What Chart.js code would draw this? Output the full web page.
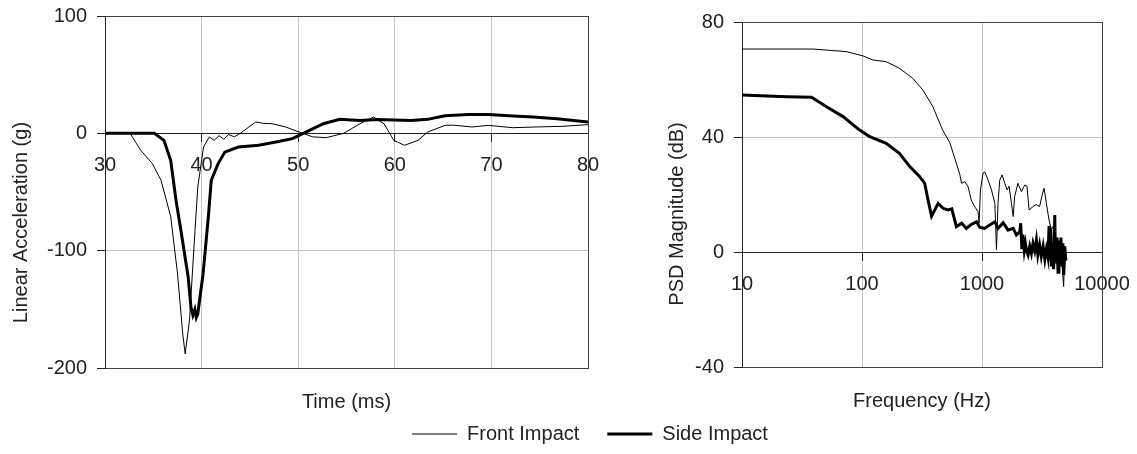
<!DOCTYPE html>
<html>
<head>
<meta charset="utf-8">
<script src="https://cdn.jsdelivr.net/npm/chart.js@4"></script>
<style>
html, body { margin: 0; padding: 0; background: #fff; }
#wrap { position: relative; width: 1137px; height: 454px; }
.box { position: absolute; }
</style>
</head>
<body>
<div id="wrap">
  <div class="box" style="left:0;top:0;width:600px;height:425px"><canvas id="timeChart"></canvas></div>
  <div class="box" style="left:600px;top:0;width:537px;height:425px"><canvas id="freqChart"></canvas></div>
  <div class="box" style="left:0;top:330px;width:1137px;height:124px"><canvas id="legendChart"></canvas></div>
</div>
<script>
// --- DATA ---

const timeTicks = [30, 40, 50, 60, 70, 80];
const accelTicks = [-200, -100, 0, 100];
const freqTicks = [10, 100, 1000, 10000];
const psdTicks = [-40, 0, 40, 80];

// Front impact, time domain (ms, g)
const frontTime = [30, 32.6, 33.2, 33.7, 34.9, 35.8, 36.8, 37.5, 38.05, 38.3, 38.75, 39.3, 39.6, 40.2, 40.8, 41.3, 41.8, 42.3, 42.8, 43.4, 44.0, 44.9, 45.6, 46.4, 47.3, 48.7, 50.1, 51.5, 52.9, 54.7, 56.4, 57.8, 58.9, 59.9, 61.0, 62.4, 63.4, 65.2, 66.0, 68.0, 69.7, 72.2, 74.6, 77.4, 80];
const frontAccel = [0, 0, -8, -14.5, -25.8, -40, -71, -119, -171, -188, -159, -85, -46, -11.7, -3, -6, -2, -5, -1, -3, 0, 5.4, 9.7, 8.5, 8.2, 5.4, 1.1, -3, -3.7, 0, 8.2, 13.9, 8, -6, -10.2, -6, 1.1, 6.8, 7, 5.4, 6.8, 4.8, 5.4, 6, 7.4];

// Side impact, time domain (ms, g)
const sideTime = [30, 35.1, 36.1, 36.8, 37.35, 37.9, 38.6, 38.9, 39.1, 39.3, 39.45, 39.6, 40.15, 40.7, 41.0, 41.7, 42.4, 43.8, 45.9, 47.7, 49.4, 50.8, 52.6, 54.3, 56.4, 58.2, 61.7, 63.4, 65.2, 67.6, 69.7, 72.2, 74.3, 76.8, 80];
const sideAccel = [0, 0, -6, -23, -57, -85, -122, -148, -155, -150, -157, -154, -120, -71, -40, -26, -16, -11.7, -10.2, -7.4, -4.5, 1.1, 8.2, 11.9, 11, 11.7, 11, 11.9, 15, 16, 16, 14.8, 14, 12.5, 9.6];

// Front impact, PSD (Hz, dB)
const frontFreq = [10, 39, 74, 102, 123, 159, 205, 265, 322, 390, 470, 540, 610, 653, 676, 720, 766, 813, 868, 927, 946, 971, 1020, 1055, 1124, 1200, 1280, 1320, 1360, 1405, 1470, 1548, 1620, 1680, 1760, 1820, 1870, 1990, 2130, 2270, 2370, 2470, 2660, 2830, 3020, 3170, 3290, 3440, 3620, 3790, 3980, 4120, 4300, 4520, 4680, 4790, 4900];
const frontPsd = [70.6, 70.6, 69.7, 68.2, 66.8, 66.2, 63.9, 60.4, 56.3, 50.5, 42.4, 38, 31, 27, 23.9, 24.5, 22.7, 18.1, 15.8, 14, 10, 21.6, 27.4, 27.9, 25, 21.6, 16.9, 0.7, 17, 25, 26.8, 23.9, 21.6, 22.9, 16.9, 12.3, 19.2, 23.9, 21, 23.3, 22.9, 14.6, 15.8, 16.5, 15.8, 19.8, 22.2, 16.9, 11.1, 7.6, 9.6, 0.7, -5.1, 3.5, -6.3, -12, 1];

// Side impact, PSD (Hz, dB)
const sideFreq = [10, 23.5, 38, 50.6, 69.5, 95.5, 116, 159, 205, 250, 303, 333, 355, 380, 404, 431, 474, 521, 560, 612, 676, 741, 813, 900, 955, 1050, 1160, 1280, 1360, 1500, 1650, 1820, 1935, 2065, 2100, 2150, 2190, 2250, 2300, 2345, 2420, 2500, 2580, 2660, 2750, 2840, 2920, 3020, 3120, 3230, 3340, 3440, 3550, 3620, 3670, 3740, 3800, 3860, 3950, 4040, 4100, 4220, 4300, 4380, 4440, 4550, 4640, 4720, 4800, 4900, 5000];
const sidePsd = [54.6, 54, 53.8, 50.5, 47.1, 42.4, 40.1, 37.8, 34.3, 29.7, 26.2, 23.9, 18.1, 12.5, 14.6, 16.9, 15.2, 14.6, 15, 8.8, 10, 8.2, 9.6, 10.5, 8.6, 8.2, 9.4, 10.5, 8.2, 10.2, 7.6, 8.2, 5.9, 7, 10, 1, 6, 0.5, 3, 0.7, -1, 2, -0.5, 3, 0.5, 4.2, -1, 2.5, -1.5, 2, -2.5, 1, -2, 9, -3, 7.6, -5, 3, -6, 12.9, -4, 5, -7, 4, -3, 5, -5, 3, -8, 2, -3];

// --- HELPERS ---

function toPoints(xs, ys) {
    return xs.map((x, i) => ({ x: x, y: ys[i] }));
}

function fixedTicks(values) {
    return function (scale) {
        scale.ticks = values.map(v => ({ value: v }));
    };
}

// labels may hang over the plot edge without shrinking the plot
function noOverhang(width) {
    return function (scale) {
        scale.paddingLeft = 0;
        scale.paddingRight = 0;
        scale.paddingTop = 0;
        scale.paddingBottom = 0;
        if (width) scale.width = width;
    };
}

// gray grid line except where the plot frame already is
function innerGrid(edges) {
    return function (ctx) {
        if (ctx.tick && edges.indexOf(ctx.tick.value) !== -1) return 'rgba(0,0,0,0)';
        return '#c4c4c4';
    };
}

Chart.defaults.font.family = "'Liberation Sans', Arial, sans-serif";
Chart.defaults.font.size = 20;
Chart.defaults.color = '#222';

const frameColor = '#444';
const axisColor = '#222';

// plain border-only axes that close the plot frame
const frameAxis = (position) => ({
    type: 'linear',
    position: position,
    grid: { display: false, drawTicks: false },
    ticks: { display: false },
    border: { color: frameColor, width: 1 }
});

// --- CHARTS ---

// 1. Linear acceleration vs time
new Chart(document.getElementById('timeChart'), {
    type: 'line',
    data: {
        datasets: [
            {
                label: 'Front Impact',
                data: toPoints(frontTime, frontAccel),
                borderColor: '#000',
                borderWidth: 1,
                pointRadius: 0,
                xAxisID: 'x',
                yAxisID: 'y'
            },
            {
                label: 'Side Impact',
                data: toPoints(sideTime, sideAccel),
                borderColor: '#000',
                borderWidth: 3,
                pointRadius: 0,
                xAxisID: 'x',
                yAxisID: 'y'
            }
        ]
    },
    options: {
        responsive: true,
        maintainAspectRatio: false,
        animation: false,
        layout: { padding: { left: 0, top: 16, right: 12, bottom: 11 } },
        plugins: { legend: { display: false }, tooltip: { enabled: false } },
        scales: {
            x: {
                type: 'linear',
                position: { y: 0 },
                min: 30,
                max: 80,
                afterBuildTicks: fixedTicks(timeTicks),
                afterFit: noOverhang(),
                grid: { color: innerGrid([30, 80]), tickColor: axisColor, tickLength: 8 },
                border: { color: axisColor, width: 1 },
                ticks: { padding: 12, maxRotation: 0, autoSkip: false }
            },
            xTitle: Object.assign(frameAxis('bottom'), {
                title: { display: true, text: 'Time (ms)', padding: { top: 22, bottom: 0 } }
            }),
            xTop: frameAxis('top'),
            y: {
                type: 'linear',
                min: -200,
                max: 100,
                afterBuildTicks: fixedTicks(accelTicks),
                afterFit: noOverhang(105),
                grid: { color: innerGrid([-200, 0, 100]), tickColor: axisColor, tickLength: 8 },
                border: { color: axisColor, width: 1 },
                ticks: { padding: 10 },
                title: {
                    display: true,
                    text: 'Linear Acceleration (g)' + ' '.repeat(11),
                    padding: { top: 9, bottom: 0 }
                }
            },
            yRight: frameAxis('right')
        }
    }
});

// 2. PSD magnitude vs frequency
new Chart(document.getElementById('freqChart'), {
    type: 'line',
    data: {
        datasets: [
            {
                label: 'Front Impact',
                data: toPoints(frontFreq, frontPsd),
                borderColor: '#000',
                borderWidth: 1,
                pointRadius: 0,
                xAxisID: 'x',
                yAxisID: 'y'
            },
            {
                label: 'Side Impact',
                data: toPoints(sideFreq, sidePsd),
                borderColor: '#000',
                borderWidth: 3,
                pointRadius: 0,
                xAxisID: 'x',
                yAxisID: 'y'
            }
        ]
    },
    options: {
        responsive: true,
        maintainAspectRatio: false,
        animation: false,
        layout: { padding: { left: 0, top: 22, right: 35, bottom: 12 } },
        plugins: { legend: { display: false }, tooltip: { enabled: false } },
        scales: {
            x: {
                type: 'logarithmic',
                position: { y: 0 },
                min: 10,
                max: 10000,
                afterBuildTicks: fixedTicks(freqTicks),
                afterFit: noOverhang(),
                grid: { color: innerGrid([10, 10000]), tickColor: axisColor, tickLength: 8 },
                border: { color: axisColor, width: 1 },
                ticks: { padding: 12, maxRotation: 0, autoSkip: false, callback: (v) => String(v) }
            },
            xTitle: Object.assign(frameAxis('bottom'), {
                title: { display: true, text: 'Frequency (Hz)', padding: { top: 22, bottom: 0 } }
            }),
            xTop: frameAxis('top'),
            y: {
                type: 'linear',
                min: -40,
                max: 80,
                afterBuildTicks: fixedTicks(psdTicks),
                afterFit: noOverhang(142),
                grid: { color: innerGrid([-40, 0, 80]), tickColor: axisColor, tickLength: 8 },
                border: { color: axisColor, width: 1 },
                ticks: { padding: 10 },
                title: {
                    display: true,
                    text: 'PSD Magnitude (dB)' + ' '.repeat(7),
                    padding: { top: 65, bottom: 0 }
                }
            },
            yRight: frameAxis('right')
        }
    }
});

// 3. Shared legend
new Chart(document.getElementById('legendChart'), {
    type: 'line',
    data: {
        datasets: [
            { label: 'Front Impact', data: [], borderColor: '#000', backgroundColor: '#000', borderWidth: 1 },
            { label: 'Side Impact', data: [], borderColor: '#000', backgroundColor: '#000', borderWidth: 3 }
        ]
    },
    options: {
        responsive: true,
        maintainAspectRatio: false,
        animation: false,
        layout: { padding: { left: 43 } },
        scales: { x: { display: false }, y: { display: false } },
        plugins: {
            tooltip: { enabled: false },
            legend: {
                position: 'bottom',
                labels: {
                    usePointStyle: true,
                    pointStyle: 'line',
                    pointStyleWidth: 45,
                    padding: 28,
                    color: '#222'
                }
            }
        }
    }
});
</script>
</body>
</html>
